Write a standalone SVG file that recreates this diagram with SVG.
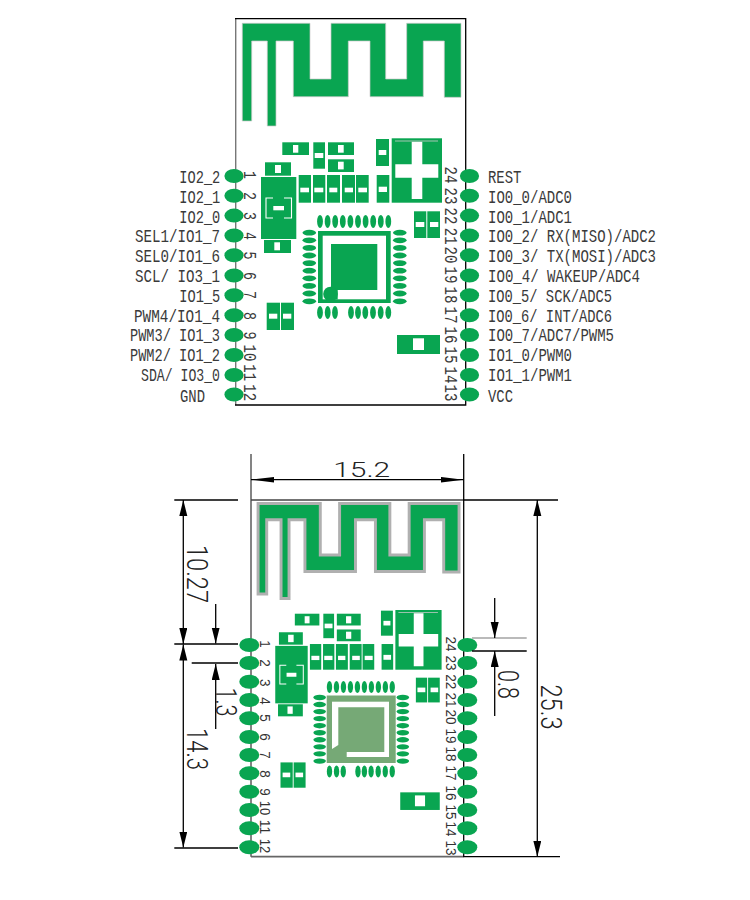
<svg xmlns="http://www.w3.org/2000/svg" width="750" height="900" viewBox="0 0 750 900">
<style>
.g{fill:#09a551}
.w{fill:#fff}
.lb{font-family:"Liberation Mono",monospace;font-size:18px;fill:#3a3a3a}
.nt{font-family:"Liberation Mono",monospace;font-size:18px;fill:#3a3a3a;text-anchor:middle}
.nb{font-family:"Liberation Sans",Arial,sans-serif;font-size:14.5px;fill:#333;text-anchor:middle}
.dim{font-family:Roboto,"Liberation Sans",sans-serif;font-weight:300;font-size:30px;fill:#222;text-anchor:middle}
.k{stroke:#000;stroke-width:1.3;fill:none}
.a{marker-end:url(#ah)}
.as{marker-start:url(#ah);marker-end:url(#ah)}
</style>
<defs>
<marker id="ah" markerUnits="userSpaceOnUse" markerWidth="18" markerHeight="10" refX="16" refY="4" orient="auto-start-reverse"><path d="M0,0 L16,4 L0,8 Z" fill="#000"/></marker>
<marker id="ah2" markerUnits="userSpaceOnUse" markerWidth="24" markerHeight="8" refX="23" refY="3" orient="auto-start-reverse"><path d="M0,0.2 L23,3 L0,5.8 Z" fill="#000"/></marker>
<ellipse id="pin" rx="9.6" ry="7"/>
<ellipse id="pin2" rx="10" ry="7"/>
<ellipse id="sv" rx="2.9" ry="6.5"/>
<ellipse id="sh" rx="6.8" ry="2.9"/>
<polygon id="antenna" points="242.3,23.3 310,23.3 310,79 331,79 331,23.3 385.7,23.3 385.7,79 406.7,79 406.7,23.3 461,23.3 461,97.3 444.3,97.3 444.3,41 423.3,41 423.3,96.7 370,96.7 370,41 348.3,41 348.3,96.7 293.3,96.7 293.3,41 276,41 276,126 267.3,126 267.3,41 251.7,41 251.7,121 242.3,121"/>
<g id="parts">
<rect class="g" x="391.7" y="138.3" width="50.3" height="64.4"/>
<path class="w" d="M411.7,141.7H422.3V164.3H438.3V177.7H422.3V199H411.7V177.7H395.3V164.3H411.7Z"/>
<rect x="395" y="140.6" width="43" height=".8" fill="#ccc"/>
<rect class="g" x="376" y="139" width="13" height="27"/><rect class="w" x="378.7" y="150" width="7.6" height="5"/>
<rect class="g" x="376.7" y="175" width="12.6" height="27.7"/><rect class="w" x="378.7" y="186.7" width="8.3" height="5.3"/>
<rect class="g" x="282.3" y="142.3" width="26.7" height="12.7"/><rect class="w" x="293" y="145" width="5.3" height="7.7"/>
<rect class="g" x="313.3" y="142.3" width="11.7" height="26.4"/><rect class="w" x="314.7" y="153" width="8.6" height="5"/>
<rect class="g" x="328" y="142.3" width="26" height="12.7"/><rect class="w" x="338" y="145" width="5.7" height="7.7"/>
<rect class="g" x="328" y="159.3" width="26" height="12.7"/><rect class="w" x="338" y="161.7" width="5.7" height="7.7"/>
<rect class="g" x="265" y="162.3" width="26" height="13.4"/><rect class="w" x="275" y="165" width="6" height="8"/>
<rect class="g" x="261" y="177" width="35.3" height="62"/>
<path d="M273,198H266V218H273M284,198H291.5V218H284" fill="none" stroke="#fff" stroke-width="1.1"/>
<rect class="w" x="273.3" y="206" width="10.7" height="4.3"/>
<rect class="g" x="264" y="240" width="27" height="13"/><rect class="w" x="274.3" y="242.3" width="5.7" height="8"/>
<rect class="g" x="298.7" y="175" width="12.3" height="27.7"/><rect class="w" x="300.3" y="187.7" width="8.7" height="4.6"/>
<rect class="g" x="313" y="175" width="12.3" height="27.7"/><rect class="w" x="314.3" y="187.7" width="9" height="4.6"/>
<rect class="g" x="327" y="175" width="13" height="27.7"/><rect class="w" x="329.3" y="187.7" width="8" height="4.6"/>
<rect class="g" x="342" y="175" width="13" height="27.7"/><rect class="w" x="344.7" y="187.7" width="8.3" height="4.6"/>
<rect class="g" x="356" y="175" width="12.7" height="27.7"/><rect class="w" x="358.3" y="187.7" width="8.7" height="4.6"/>
<rect class="g" x="414" y="211.3" width="12.3" height="26.7"/><rect class="w" x="415.7" y="222" width="8.6" height="5"/>
<rect class="g" x="427.3" y="211.3" width="12.7" height="26.7"/><rect class="w" x="430" y="222" width="8.3" height="5"/>
<rect class="g" x="266.7" y="302.7" width="13.3" height="27.3"/><rect class="w" x="269" y="313.7" width="8.3" height="5"/>
<rect class="g" x="281" y="302.7" width="13" height="27.3"/><rect class="w" x="283" y="313.7" width="8.3" height="5"/>
<rect class="g" x="397" y="335" width="43" height="19"/><rect class="w" x="413" y="338.3" width="11" height="11.7"/>
<g class="g">
<use href="#sv" x="320" y="221.4"/><use href="#sv" x="327.6" y="221.4"/><use href="#sv" x="335.2" y="221.4"/><use href="#sv" x="342.8" y="221.4"/><use href="#sv" x="350.4" y="221.4"/><use href="#sv" x="358" y="221.4"/><use href="#sv" x="365.6" y="221.4"/><use href="#sv" x="373.2" y="221.4"/><use href="#sv" x="380.8" y="221.4"/><use href="#sv" x="388.3" y="221.4"/>
<use href="#sv" x="320" y="312.5"/><use href="#sv" x="327.7" y="312.5"/><use href="#sv" x="335" y="312.5"/><use href="#sv" x="351" y="312.5"/><use href="#sv" x="358" y="312.5"/><use href="#sv" x="365.3" y="312.5"/><use href="#sv" x="373" y="312.5"/><use href="#sv" x="380.7" y="312.5"/><use href="#sv" x="388.3" y="312.5"/>
<use href="#sh" x="309.3" y="232.7"/><use href="#sh" x="309.3" y="240.3"/><use href="#sh" x="309.3" y="247.9"/><use href="#sh" x="309.3" y="255.5"/><use href="#sh" x="309.3" y="263.1"/><use href="#sh" x="309.3" y="270.7"/><use href="#sh" x="309.3" y="278.3"/><use href="#sh" x="309.3" y="285.9"/><use href="#sh" x="309.3" y="293.5"/><use href="#sh" x="309.3" y="301.3"/>
<use href="#sh" x="399.8" y="232.7"/><use href="#sh" x="399.8" y="240.3"/><use href="#sh" x="399.8" y="247.9"/><use href="#sh" x="399.8" y="255.5"/><use href="#sh" x="399.8" y="263.1"/><use href="#sh" x="399.8" y="270.7"/><use href="#sh" x="399.8" y="278.3"/><use href="#sh" x="399.8" y="285.9"/><use href="#sh" x="399.8" y="293.5"/><use href="#sh" x="399.8" y="301.3"/>
</g>
</g>
</defs>
<rect width="750" height="900" fill="#fff"/>

<g id="top-board">
<path d="M235.7,18.7V405" fill="none" stroke="#777" stroke-width="1.4"/>
<path d="M235,18.7H465.7V405H235" class="k"/>
<use id="top-antenna" href="#antenna" class="g" stroke="#c8c8c8" stroke-width=".7"/>
<use href="#parts"/>
<g id="top-chip">
<rect class="g" x="318" y="231" width="72.7" height="72"/>
<rect class="w" x="322.7" y="235.7" width="63.3" height="63.6"/>
<rect class="g" x="331" y="244" width="46.3" height="46"/>
<rect class="g" x="331" y="288" width="6.7" height="11.5"/>
<circle class="g" cx="330.5" cy="294" r="7.3"/>
</g>
</g>

<g id="top-pins" class="g">
<use href="#pin" x="234" y="176"/><use href="#pin" x="234" y="195.8"/><use href="#pin" x="234" y="215.6"/><use href="#pin" x="234" y="235.5"/><use href="#pin" x="234" y="255.3"/><use href="#pin" x="234" y="275.5"/><use href="#pin" x="234" y="295.3"/><use href="#pin" x="234" y="315.2"/><use href="#pin" x="234" y="335"/><use href="#pin" x="234" y="355"/><use href="#pin" x="234" y="375"/><use href="#pin" x="234" y="394.5"/>
<use href="#pin" x="469.5" y="176"/><use href="#pin" x="469.5" y="195.8"/><use href="#pin" x="469.5" y="215.6"/><use href="#pin" x="469.5" y="235.5"/><use href="#pin" x="469.5" y="255.3"/><use href="#pin" x="469.5" y="275.5"/><use href="#pin" x="469.5" y="295.3"/><use href="#pin" x="469.5" y="315.2"/><use href="#pin" x="469.5" y="335"/><use href="#pin" x="469.5" y="355"/><use href="#pin" x="469.5" y="375"/><use href="#pin" x="469.5" y="394.5"/>
</g>

<g id="top-pin-numbers">
<text class="nt" transform="translate(249,175) rotate(90)" y="5.5" textLength="8" lengthAdjust="spacingAndGlyphs">1</text>
<text class="nt" transform="translate(249,196) rotate(90)" y="5.5" textLength="8" lengthAdjust="spacingAndGlyphs">2</text>
<text class="nt" transform="translate(249,216) rotate(90)" y="5.5" textLength="8" lengthAdjust="spacingAndGlyphs">3</text>
<text class="nt" transform="translate(249,236) rotate(90)" y="5.5" textLength="8" lengthAdjust="spacingAndGlyphs">4</text>
<text class="nt" transform="translate(249,255.5) rotate(90)" y="5.5" textLength="8" lengthAdjust="spacingAndGlyphs">5</text>
<text class="nt" transform="translate(249,276) rotate(90)" y="5.5" textLength="8" lengthAdjust="spacingAndGlyphs">6</text>
<text class="nt" transform="translate(249,295) rotate(90)" y="5.5" textLength="8" lengthAdjust="spacingAndGlyphs">7</text>
<text class="nt" transform="translate(249,316) rotate(90)" y="5.5" textLength="8" lengthAdjust="spacingAndGlyphs">8</text>
<text class="nt" transform="translate(249,335.5) rotate(90)" y="5.5" textLength="8" lengthAdjust="spacingAndGlyphs">9</text>
<text class="nt" transform="translate(249,353) rotate(90)" y="5.5" textLength="17" lengthAdjust="spacingAndGlyphs">10</text>
<text class="nt" transform="translate(249,372.7) rotate(90)" y="5.5" textLength="17" lengthAdjust="spacingAndGlyphs">11</text>
<text class="nt" transform="translate(249,392.7) rotate(90)" y="5.5" textLength="17" lengthAdjust="spacingAndGlyphs">12</text>
<text class="nt" transform="translate(450.7,175) rotate(90)" y="5.5" textLength="17" lengthAdjust="spacingAndGlyphs">24</text>
<text class="nt" transform="translate(450.7,196) rotate(90)" y="5.5" textLength="17" lengthAdjust="spacingAndGlyphs">23</text>
<text class="nt" transform="translate(450.7,216) rotate(90)" y="5.5" textLength="17" lengthAdjust="spacingAndGlyphs">22</text>
<text class="nt" transform="translate(450.7,236.3) rotate(90)" y="5.5" textLength="17" lengthAdjust="spacingAndGlyphs">21</text>
<text class="nt" transform="translate(450.7,255) rotate(90)" y="5.5" textLength="17" lengthAdjust="spacingAndGlyphs">20</text>
<text class="nt" transform="translate(450.7,275) rotate(90)" y="5.5" textLength="17" lengthAdjust="spacingAndGlyphs">19</text>
<text class="nt" transform="translate(450.7,295) rotate(90)" y="5.5" textLength="17" lengthAdjust="spacingAndGlyphs">18</text>
<text class="nt" transform="translate(450.7,315) rotate(90)" y="5.5" textLength="17" lengthAdjust="spacingAndGlyphs">17</text>
<text class="nt" transform="translate(450.7,335) rotate(90)" y="5.5" textLength="17" lengthAdjust="spacingAndGlyphs">16</text>
<text class="nt" transform="translate(450.7,355) rotate(90)" y="5.5" textLength="17" lengthAdjust="spacingAndGlyphs">15</text>
<text class="nt" transform="translate(450.7,375) rotate(90)" y="5.5" textLength="17" lengthAdjust="spacingAndGlyphs">14</text>
<text class="nt" transform="translate(450.7,393) rotate(90)" y="5.5" textLength="17" lengthAdjust="spacingAndGlyphs">13</text>
</g>

<g id="top-labels-left">
<text class="lb" x="179.3" y="183" textLength="41" lengthAdjust="spacingAndGlyphs">IO2_2</text>
<text class="lb" x="179.3" y="202.8" textLength="41" lengthAdjust="spacingAndGlyphs">IO2_1</text>
<text class="lb" x="179.3" y="222.6" textLength="41" lengthAdjust="spacingAndGlyphs">IO2_0</text>
<text class="lb" x="135" y="242.4" textLength="85" lengthAdjust="spacingAndGlyphs">SEL1/IO1_7</text>
<text class="lb" x="135" y="262.2" textLength="85" lengthAdjust="spacingAndGlyphs">SEL0/IO1_6</text>
<text class="lb" x="135" y="282" textLength="85" lengthAdjust="spacingAndGlyphs">SCL/ IO3_1</text>
<text class="lb" x="179.3" y="301.8" textLength="41" lengthAdjust="spacingAndGlyphs">IO1_5</text>
<text class="lb" x="134" y="321.6" textLength="86" lengthAdjust="spacingAndGlyphs">PWM4/IO1_4</text>
<text class="lb" x="130" y="341.4" textLength="90" lengthAdjust="spacingAndGlyphs">PWM3/ IO1_3</text>
<text class="lb" x="130" y="361.2" textLength="90" lengthAdjust="spacingAndGlyphs">PWM2/ IO1_2</text>
<text class="lb" x="141" y="381" textLength="79" lengthAdjust="spacingAndGlyphs">SDA/ IO3_0</text>
<text class="lb" x="180" y="401.5" textLength="25" lengthAdjust="spacingAndGlyphs">GND</text>
</g>

<g id="top-labels-right">
<text class="lb" x="488" y="183" textLength="33.5" lengthAdjust="spacingAndGlyphs">REST</text>
<text class="lb" x="488" y="202.8" textLength="84" lengthAdjust="spacingAndGlyphs">IO0_0/ADC0</text>
<text class="lb" x="488" y="222.6" textLength="84" lengthAdjust="spacingAndGlyphs">IO0_1/ADC1</text>
<text class="lb" x="488" y="242.4" textLength="168" lengthAdjust="spacingAndGlyphs">IO0_2/ RX(MISO)/ADC2</text>
<text class="lb" x="488" y="262.2" textLength="168" lengthAdjust="spacingAndGlyphs">IO0_3/ TX(MOSI)/ADC3</text>
<text class="lb" x="488" y="282" textLength="152" lengthAdjust="spacingAndGlyphs">IO0_4/ WAKEUP/ADC4</text>
<text class="lb" x="488" y="301.8" textLength="124" lengthAdjust="spacingAndGlyphs">IO0_5/ SCK/ADC5</text>
<text class="lb" x="488" y="321.6" textLength="124" lengthAdjust="spacingAndGlyphs">IO0_6/ INT/ADC6</text>
<text class="lb" x="488" y="341.4" textLength="126" lengthAdjust="spacingAndGlyphs">IO0_7/ADC7/PWM5</text>
<text class="lb" x="488" y="361.2" textLength="84" lengthAdjust="spacingAndGlyphs">IO1_0/PWM0</text>
<text class="lb" x="488" y="381" textLength="84" lengthAdjust="spacingAndGlyphs">IO1_1/PWM1</text>
<text class="lb" x="488" y="402" textLength="25" lengthAdjust="spacingAndGlyphs">VCC</text>
</g>

<g id="bottom-board">
<path d="M251,454V856.7" fill="none" stroke="#777" stroke-width="1.8"/>
<path d="M251,500H463.5" fill="none" stroke="#444" stroke-width="1.3"/>
<path d="M251,856.7H463.5" fill="none" stroke="#666" stroke-width="1.8"/>
<path d="M463.7,454V856.7" class="k"/>
<g transform="translate(35.4,481.8) scale(.919,.927)">
<use id="bottom-antenna" href="#antenna" class="g" stroke="#b0b0b0" stroke-width="3.2"/>
<use href="#parts"/>
</g>
<g id="bottom-chip">
<rect x="326.7" y="695.5" width="69" height="67.5" fill="#76a976"/>
<rect class="w" x="332" y="701.7" width="57" height="55.3"/>
<path d="M338.3,707.3H384.3V752H346.7V757H332V749L338.3,745Z" fill="#76a976"/>
</g>
</g>

<g id="bottom-pins" class="g">
<use href="#pin2" x="249.3" y="645"/><use href="#pin2" x="249.3" y="663"/><use href="#pin2" x="249.3" y="681.7"/><use href="#pin2" x="249.3" y="700"/><use href="#pin2" x="249.3" y="718.3"/><use href="#pin2" x="249.3" y="737"/><use href="#pin2" x="249.3" y="755"/><use href="#pin2" x="249.3" y="773.3"/><use href="#pin2" x="249.3" y="791.7"/><use href="#pin2" x="249.3" y="810"/><use href="#pin2" x="249.3" y="828.3"/><use href="#pin2" x="249.3" y="847.3"/>
<use href="#pin2" x="467.3" y="645"/><use href="#pin2" x="467.3" y="663"/><use href="#pin2" x="467.3" y="681.7"/><use href="#pin2" x="467.3" y="700"/><use href="#pin2" x="467.3" y="718.3"/><use href="#pin2" x="467.3" y="737"/><use href="#pin2" x="467.3" y="755"/><use href="#pin2" x="467.3" y="773.3"/><use href="#pin2" x="467.3" y="791.7"/><use href="#pin2" x="467.3" y="810"/><use href="#pin2" x="467.3" y="828.3"/><use href="#pin2" x="467.3" y="847.3"/>
</g>

<g id="bottom-pin-numbers">
<text class="nb" transform="translate(265,644) rotate(90)" y="5" textLength="7.5" lengthAdjust="spacingAndGlyphs">1</text>
<text class="nb" transform="translate(265,663) rotate(90)" y="5" textLength="7.5" lengthAdjust="spacingAndGlyphs">2</text>
<text class="nb" transform="translate(265,682.7) rotate(90)" y="5" textLength="7.5" lengthAdjust="spacingAndGlyphs">3</text>
<text class="nb" transform="translate(265,701) rotate(90)" y="5" textLength="7.5" lengthAdjust="spacingAndGlyphs">4</text>
<text class="nb" transform="translate(265,718) rotate(90)" y="5" textLength="7.5" lengthAdjust="spacingAndGlyphs">5</text>
<text class="nb" transform="translate(265,737) rotate(90)" y="5" textLength="7.5" lengthAdjust="spacingAndGlyphs">6</text>
<text class="nb" transform="translate(265,755) rotate(90)" y="5" textLength="7.5" lengthAdjust="spacingAndGlyphs">7</text>
<text class="nb" transform="translate(265,774) rotate(90)" y="5" textLength="7.5" lengthAdjust="spacingAndGlyphs">8</text>
<text class="nb" transform="translate(265,792) rotate(90)" y="5" textLength="7.5" lengthAdjust="spacingAndGlyphs">9</text>
<text class="nb" transform="translate(265,808) rotate(90)" y="5" textLength="14.5" lengthAdjust="spacingAndGlyphs">10</text>
<text class="nb" transform="translate(265,827) rotate(90)" y="5" textLength="14.5" lengthAdjust="spacingAndGlyphs">11</text>
<text class="nb" transform="translate(265,846) rotate(90)" y="5" textLength="14.5" lengthAdjust="spacingAndGlyphs">12</text>
<text class="nb" transform="translate(451,644) rotate(90)" y="5" textLength="15" lengthAdjust="spacingAndGlyphs">24</text>
<text class="nb" transform="translate(451,663) rotate(90)" y="5" textLength="15" lengthAdjust="spacingAndGlyphs">23</text>
<text class="nb" transform="translate(451,681.7) rotate(90)" y="5" textLength="15" lengthAdjust="spacingAndGlyphs">22</text>
<text class="nb" transform="translate(451,700) rotate(90)" y="5" textLength="15" lengthAdjust="spacingAndGlyphs">21</text>
<text class="nb" transform="translate(451,717) rotate(90)" y="5" textLength="15" lengthAdjust="spacingAndGlyphs">20</text>
<text class="nb" transform="translate(451,736) rotate(90)" y="5" textLength="15" lengthAdjust="spacingAndGlyphs">19</text>
<text class="nb" transform="translate(451,754) rotate(90)" y="5" textLength="15" lengthAdjust="spacingAndGlyphs">18</text>
<text class="nb" transform="translate(451,773) rotate(90)" y="5" textLength="15" lengthAdjust="spacingAndGlyphs">17</text>
<text class="nb" transform="translate(451,793) rotate(90)" y="5" textLength="15" lengthAdjust="spacingAndGlyphs">16</text>
<text class="nb" transform="translate(451,812) rotate(90)" y="5" textLength="15" lengthAdjust="spacingAndGlyphs">15</text>
<text class="nb" transform="translate(451,829) rotate(90)" y="5" textLength="15" lengthAdjust="spacingAndGlyphs">14</text>
<text class="nb" transform="translate(451,848) rotate(90)" y="5" textLength="15" lengthAdjust="spacingAndGlyphs">13</text>
</g>

<g id="connectors">
<path class="k" d="M174.3,500H238M463,500H558M174.3,644H238M191.7,663H238M174.3,848H238M463,856.7H560"/>
<path class="k" d="M472,651H526.7"/>
<path d="M472,638H526.7" fill="none" stroke="#777" stroke-width="1.2"/>
<path d="M251,479.7H463.5" class="k" marker-start="url(#ah2)" marker-end="url(#ah2)"/>
<path class="k as" d="M183.3,500V644"/>
<path class="k as" d="M183.3,644.5V847.5"/>
<path class="k a" d="M215.7,604V643.5"/>
<path class="k a" d="M215.7,729V664"/>
<path class="k a" d="M494.7,598V638"/>
<path class="k a" d="M494.7,716V651"/>
<path class="k as" d="M537.3,500V856.7"/>
</g>

<g id="dimensions">
<text class="dim" style="font-size:21px" x="361.7" y="476.7" textLength="57" lengthAdjust="spacingAndGlyphs">15.2</text>
<text class="dim" transform="translate(197,574) rotate(90)" y="10.5" textLength="58" lengthAdjust="spacingAndGlyphs">10.27</text>
<text class="dim" transform="translate(197.5,749) rotate(90)" y="10.5" textLength="42" lengthAdjust="spacingAndGlyphs">14.3</text>
<text class="dim" transform="translate(226,702) rotate(90)" y="10.5" textLength="29" lengthAdjust="spacingAndGlyphs">1.3</text>
<text class="dim" transform="translate(508.5,684.5) rotate(90)" y="10.5" textLength="29" lengthAdjust="spacingAndGlyphs">0.8</text>
<text class="dim" transform="translate(551,707) rotate(90)" y="10.5" textLength="45" lengthAdjust="spacingAndGlyphs">25.3</text>
</g>
</svg>
